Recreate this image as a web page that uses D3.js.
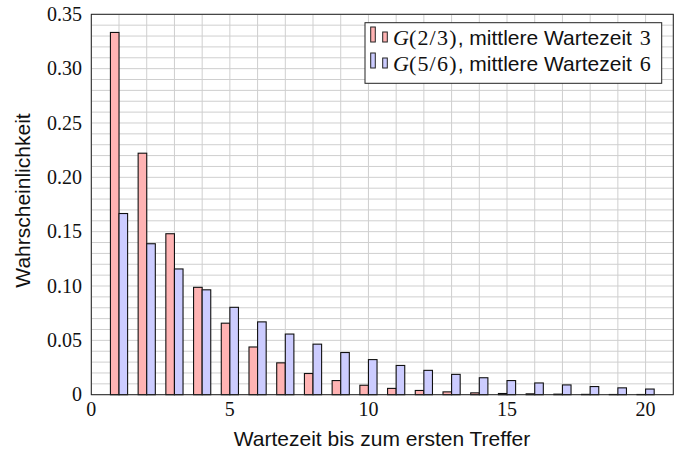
<!DOCTYPE html>
<html>
<head>
<meta charset="utf-8">
<script src="https://cdn.jsdelivr.net/npm/d3@7"></script>
<style>
  html, body { margin: 0; padding: 0; background: #fff; }
  svg { display: block; }
</style>
</head>
<body>
<svg id="chart" width="681" height="455"></svg>
<script>
// Waiting times k = 1..20
const waits = [1,2,3,4,5,6,7,8,9,10,11,12,13,14,15,16,17,18,19,20];
// G(2/3): mean waiting time 3
const probRed = [0.3333,0.2222,0.1481,0.0988,0.0658,0.0439,0.0293,0.0195,0.0130,0.0087,
                 0.0058,0.0039,0.0026,0.0017,0.0011,0.0008,0.0005,0.0003,0.0002,0.0002];
// G(5/6): mean waiting time 6
const probBlue = [0.1667,0.1389,0.1157,0.0965,0.0804,0.0670,0.0558,0.0465,0.0388,0.0323,
                  0.0269,0.0224,0.0187,0.0156,0.0130,0.0108,0.0090,0.0075,0.0063,0.0052];
const xTicks = [0,5,10,15,20];
const yTicks = [0,0.05,0.10,0.15,0.20,0.25,0.30,0.35];
const yTickLabels = ["0","0.05","0.10","0.15","0.20","0.25","0.30","0.35"];

const serif = "'Liberation Serif', 'DejaVu Serif', serif";
const sans = "'Liberation Sans', Arial, sans-serif";

const svg = d3.select("#chart");
const plotLeft = 91.3, plotRight = 673.3, plotTop = 14.3, plotBottom = 394.7;

const x = d3.scaleLinear().domain([0, 21]).range([plotLeft, plotRight]);
const y = d3.scaleLinear().domain([0, 0.35]).range([plotBottom, plotTop]);

// grid: one vertical line per unit, one horizontal line per 0.01
const grid = svg.append("g").attr("stroke", "#cfcfcf").attr("stroke-width", 1);
grid.selectAll("line.v").data(d3.range(0, 22)).join("line")
  .attr("class", "v")
  .attr("x1", d => x(d)).attr("x2", d => x(d))
  .attr("y1", plotTop).attr("y2", plotBottom);
grid.selectAll("line.h").data(d3.range(0, 36).map(i => i / 100)).join("line")
  .attr("class", "h")
  .attr("x1", plotLeft).attr("x2", plotRight)
  .attr("y1", d => y(d)).attr("y2", d => y(d));

// bars
const bw = 0.31;
const bars = svg.append("g").attr("stroke", "#111").attr("stroke-width", 1.1);
bars.selectAll("rect.red").data(waits).join("rect")
  .attr("class", "red")
  .attr("x", (d) => x(d - bw))
  .attr("width", x(bw) - x(0))
  .attr("y", (d, i) => y(probRed[i]))
  .attr("height", (d, i) => y(0) - y(probRed[i]))
  .attr("fill", "#ffb3b3");
bars.selectAll("rect.blue").data(waits).join("rect")
  .attr("class", "blue")
  .attr("x", (d) => x(d))
  .attr("width", x(bw) - x(0))
  .attr("y", (d, i) => y(probBlue[i]))
  .attr("height", (d, i) => y(0) - y(probBlue[i]))
  .attr("fill", "#ccccff");

// frame
svg.append("rect")
  .attr("x", plotLeft).attr("y", plotTop)
  .attr("width", plotRight - plotLeft).attr("height", plotBottom - plotTop)
  .attr("fill", "none").attr("stroke", "#222").attr("stroke-width", 1);

// tick labels
svg.append("g").selectAll("text").data(xTicks).join("text")
  .attr("x", d => x(d)).attr("y", 416)
  .attr("text-anchor", "middle")
  .attr("font-family", serif).attr("font-size", 20)
  .attr("fill", "#111")
  .text(d => d);
svg.append("g").selectAll("text").data(yTicks).join("text")
  .attr("x", 82).attr("y", d => y(d))
  .attr("dy", "0.33em")
  .attr("text-anchor", "end")
  .attr("font-family", serif).attr("font-size", 20)
  .attr("fill", "#111")
  .text((d, i) => yTickLabels[i]);

// axis titles
svg.append("text")
  .attr("x", 382).attr("y", 445.5)
  .attr("text-anchor", "middle")
  .attr("font-family", sans).attr("font-size", 21)
  .attr("fill", "#111")
  .text("Wartezeit bis zum ersten Treffer");
svg.append("text")
  .attr("transform", `translate(30,200.5) rotate(-90)`)
  .attr("text-anchor", "middle")
  .attr("font-family", sans).attr("font-size", 21)
  .attr("fill", "#111")
  .text("Wahrscheinlichkeit");

// legend
const legend = svg.append("g");
legend.append("rect")
  .attr("x", 365).attr("y", 22.7).attr("width", 296.7).attr("height", 60.6)
  .attr("fill", "#fff").attr("stroke", "#222").attr("stroke-width", 1);
const entries = [
  { fill: "#ffb3b3", p: "(2/3)", mean: "3", base: 44.5 },
  { fill: "#ccccff", p: "(5/6)", mean: "6", base: 70.5 }
];
entries.forEach(e => {
  legend.append("rect")
    .attr("x", 370.7).attr("y", e.base - 17.5).attr("width", 4.6).attr("height", 15)
    .attr("fill", e.fill).attr("stroke", "#222").attr("stroke-width", 1);
  legend.append("rect")
    .attr("x", 382.7).attr("y", e.base - 12.5).attr("width", 4.6).attr("height", 10)
    .attr("fill", e.fill).attr("stroke", "#222").attr("stroke-width", 1);
  const t = legend.append("text")
    .attr("x", 393).attr("y", e.base)
    .attr("font-size", 22).attr("fill", "#111");
  t.append("tspan").attr("font-family", serif).attr("font-style", "italic").text("G");
  t.append("tspan").attr("font-family", serif).attr("letter-spacing", 1.2).text(e.p);
  t.append("tspan").attr("font-family", sans).attr("font-size", 21).text(", mittlere Wartezeit ");
  t.append("tspan").attr("font-family", serif).attr("dx", 2).text(e.mean);
});
</script>
</body>
</html>
